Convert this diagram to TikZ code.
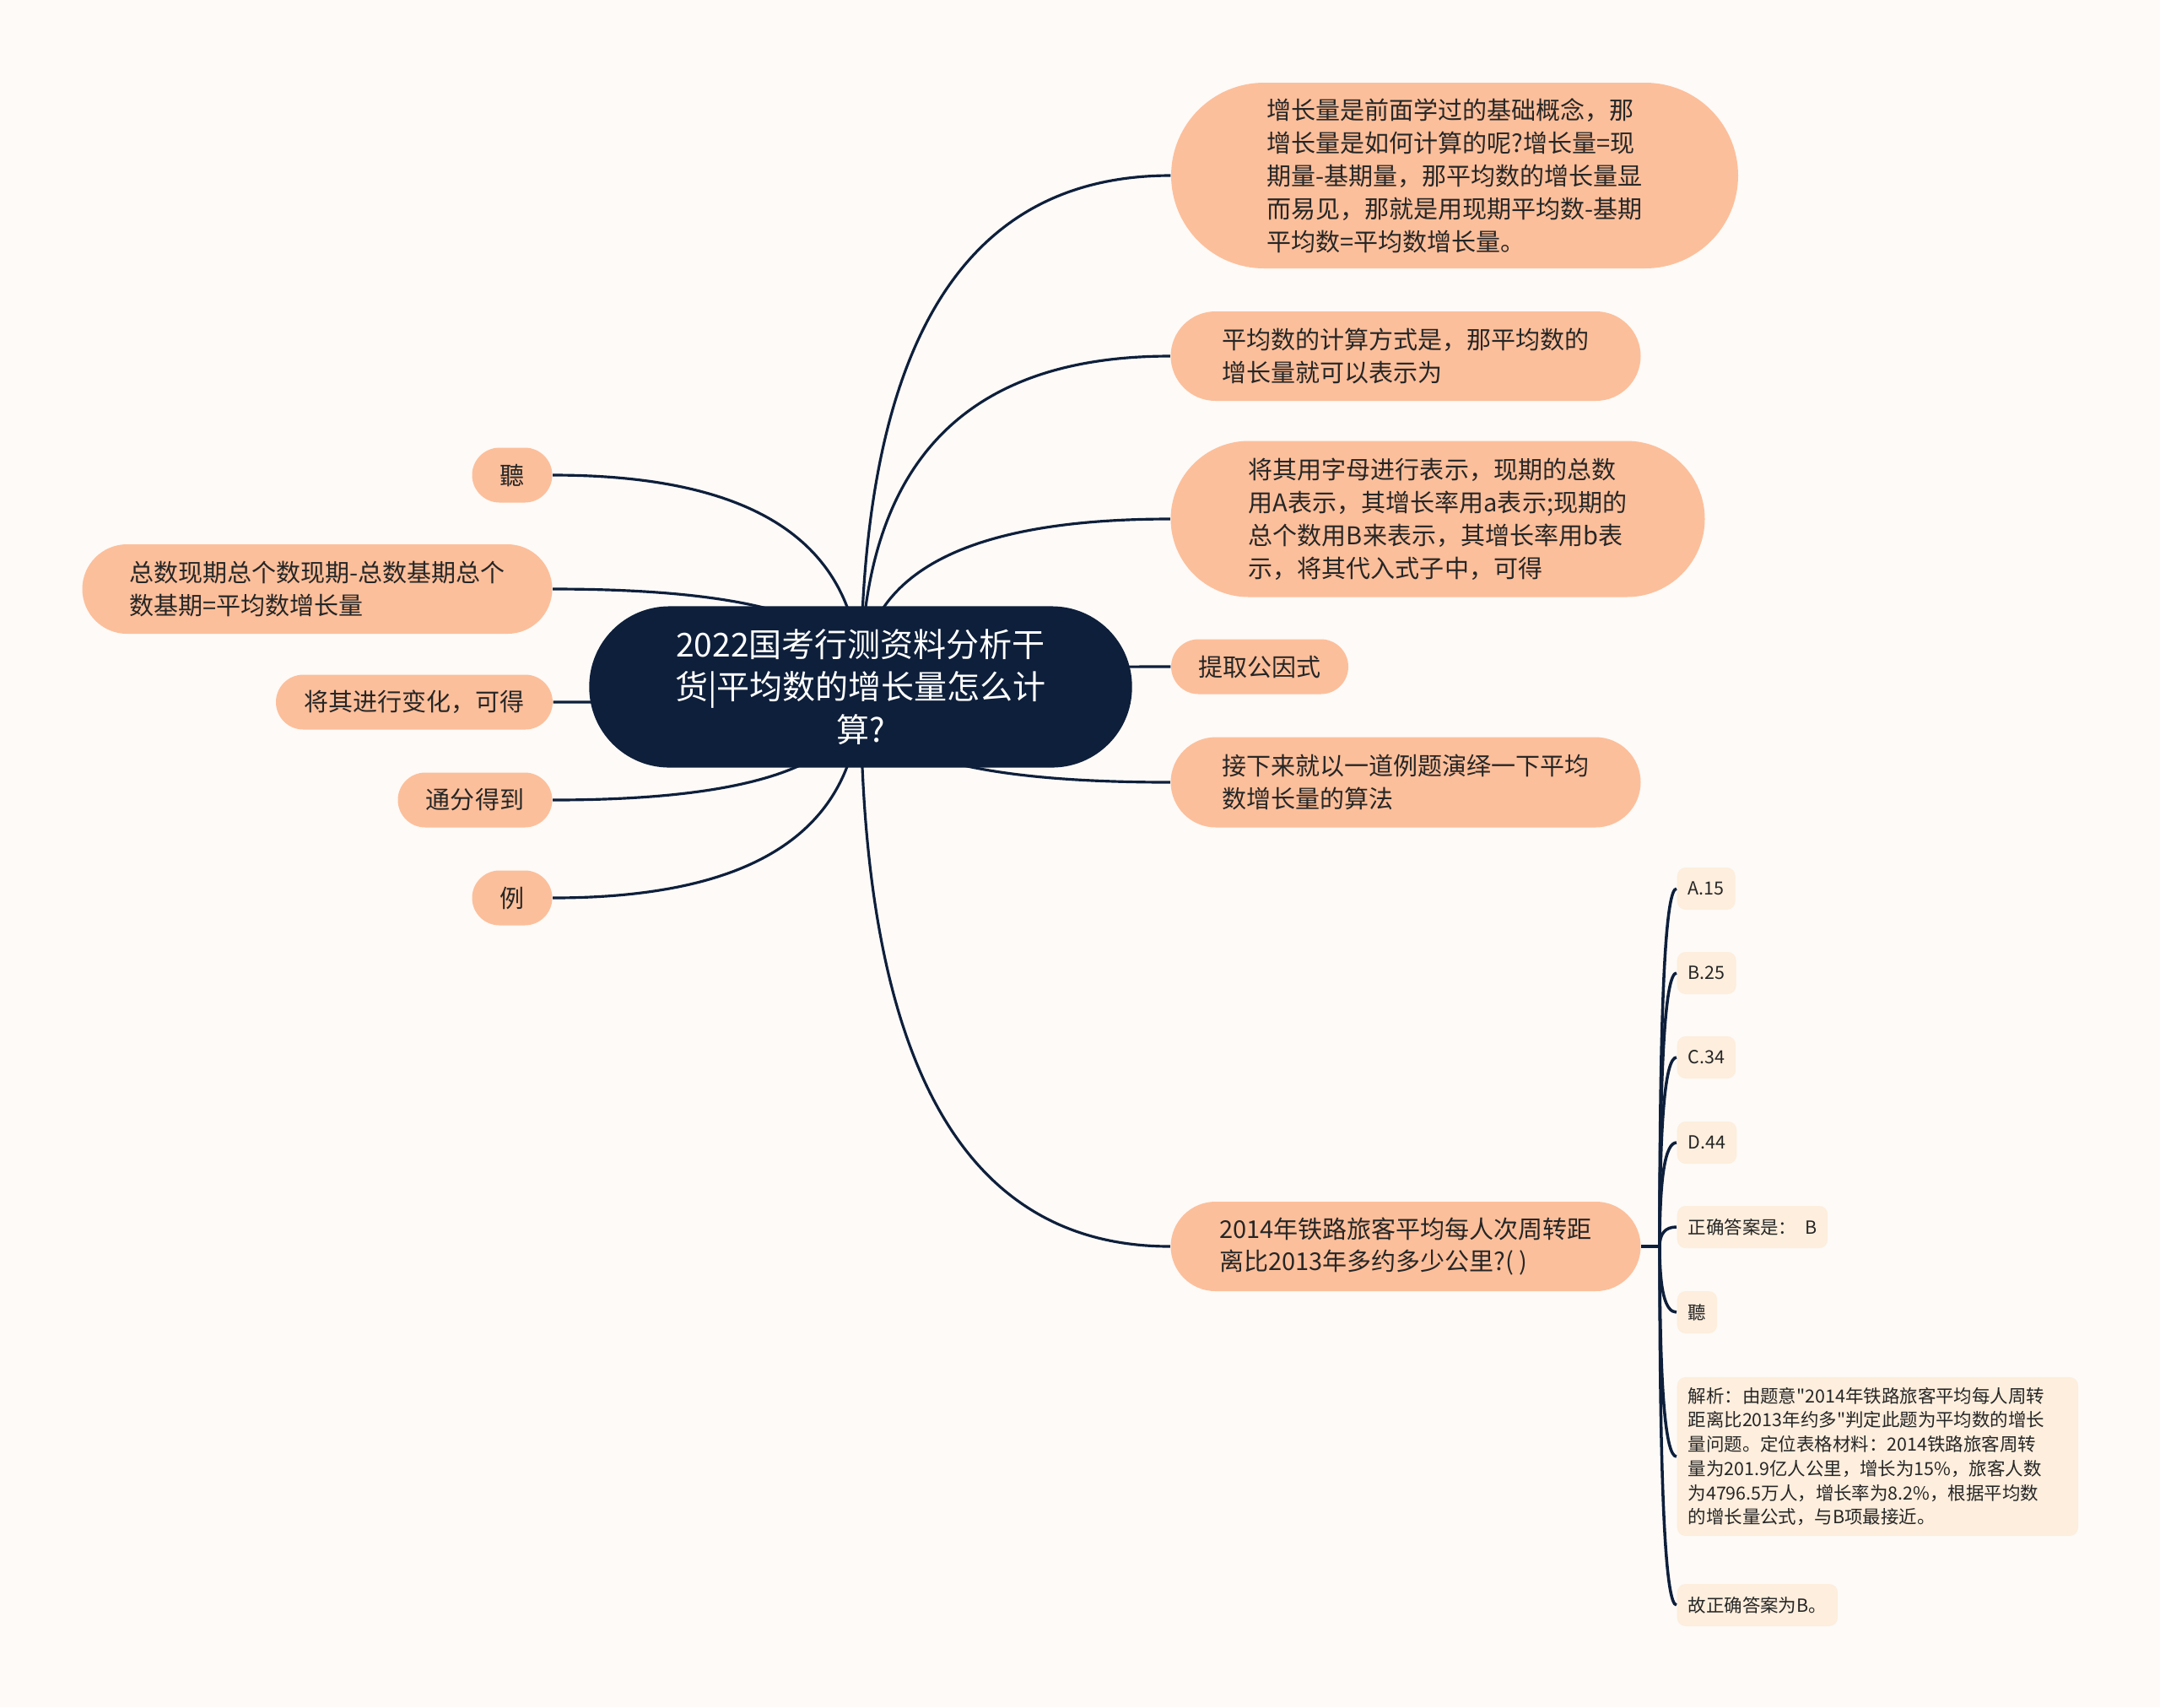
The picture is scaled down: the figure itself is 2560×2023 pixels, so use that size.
\documentclass[tikz,border=0pt]{standalone}
\usepackage{fontspec}
\setmainfont{Noto Sans CJK SC}
\newfontfamily{\rawcjk}{Noto Sans CJK SC}
\usepackage{xcolor}
\usepackage{tikz}
\usetikzlibrary{calc}
\definecolor{paper}{HTML}{FDFAF7}
\definecolor{rootnavy}{HTML}{0E1F3B}
\definecolor{peach}{HTML}{FCBF9B}
\definecolor{cream}{HTML}{FDEEDD}
\definecolor{inkgray}{HTML}{262626}
\newcommand{\rootfont}{\fontsize{11.1pt}{14.4pt}\selectfont}
\newcommand{\topicfont}{\fontsize{8.25pt}{11.07pt}\selectfont}
\newcommand{\leaffont}{\rawcjk\fontsize{6.1pt}{8.17pt}\selectfont}
\pgfdeclarelayer{bg}
\pgfdeclarelayer{links}
\pgfsetlayers{bg,links,main}
\tikzset{
  rootbox/.style = {rectangle, fill=rootnavy, text=white, font=\rootfont,
                    align=center, inner sep=0pt, minimum width=6.43cm,
                    minimum height=1.91cm, rounded corners=0.95cm},
  topic/.style   = {rectangle, fill=peach, text=inkgray, font=\topicfont,
                    align=left, inner sep=0pt},
  pill/.style 2 args = {minimum width=#1*0.01cm, minimum height=#2*0.01cm,
                    rounded corners=#2*0.005cm},
  leaf/.style    = {rectangle, fill=cream, text=inkgray, font=\leaffont,
                    align=left, anchor=west, inner xsep=1.3mm, inner ysep=0pt,
                    minimum height=5mm, rounded corners=1mm},
  link/.style    = {draw=rootnavy, line width=0.9pt},
  branch/.style  = {to path={.. controls
                    ($(\tikztostart)!.67!(\tikztostart |- \tikztotarget)$) and
                    ($(\tikztotarget)!.67!(\tikztostart |- \tikztotarget)$) ..
                    (\tikztotarget)}},
}
\begin{document}
\begin{tikzpicture}[x=0.01cm, y=-0.01cm]
  \begin{pgfonlayer}{bg}
    \fill[paper] (0,0) rectangle (2560,2023);
  \end{pgfonlayer}
  \useasboundingbox (0,0) rectangle (2560,2023);

  \node[rootbox] (root) at (1020,814) {2022国考行测资料分析干\\货|平均数的增长量怎么计\\算?};

  % right side
  \node[topic, pill={672}{220}] (concept) at (1724,208) {增长量是前面学过的基础概念，那\\增长量是如何计算的呢?增长量=现\\期量-基期量，那平均数的增长量显\\而易见，那就是用现期平均数-基期\\平均数=平均数增长量。};
  \node[topic, pill={557}{106}] (method) at (1666,422) {平均数的计算方式是，那平均数的\\增长量就可以表示为};
  \node[topic, pill={633}{185}] (letters) at (1704,615) {将其用字母进行表示，现期的总数\\用A表示，其增长率用a表示;现期的\\总个数用B来表示，其增长率用b表\\示，将其代入式子中，可得};
  \node[topic, pill={210}{65}] (factor) at (1493,790) {提取公因式};
  \node[topic, pill={557}{107}] (demo) at (1666,927) {接下来就以一道例题演绎一下平均\\数增长量的算法};
  \node[topic, pill={557}{106}] (quiz) at (1666,1477) {2014年铁路旅客平均每人次周转距\\离比2013年多约多少公里?( )};

  % left side
  \node[topic, pill={95}{65}] (ting) at (607,563) {聽};
  \node[topic, pill={557}{106}] (formula) at (376,698) {总数现期总个数现期-总数基期总个\\数基期=平均数增长量};
  \node[topic, pill={328}{65}] (transform) at (491,832) {将其进行变化，可得};
  \node[topic, pill={183}{65}] (common) at (563,948) {通分得到};
  \node[topic, pill={95}{65}] (example) at (607,1064) {例};

  % answers of the quiz
  \coordinate (fork) at (1967,1477);
  \node[leaf] (optA) at (1987,1053) {A.15};
  \node[leaf] (optB) at (1987,1153) {B.25};
  \node[leaf] (optC) at (1987,1253) {C.34};
  \node[leaf] (optD) at (1987,1354) {D.44};
  \node[leaf] (answer) at (1987,1454) {正确答案是：~~B};
  \node[leaf] (tingb) at (1987,1555) {聽};
  \node[leaf, inner ysep=1.2mm, text width=4.49cm] (analysis) at (1987,1726) {解析：由题意"2014年铁路旅客平均每人周转\\距离比2013年约多"判定此题为平均数的增长\\量问题。定位表格材料：2014铁路旅客周转\\量为201.9亿人公里，增长为15\%，旅客人数\\为4796.5万人，增长率为8.2\%，根据平均数\\的增长量公式，与B项最接近。};
  \node[leaf] (final) at (1987,1902) {故正确答案为B。};

  \begin{pgfonlayer}{links}
    \draw[link] (root.center) to[branch] (concept.west);
    \draw[link] (root.center) to[branch] (method.west);
    \draw[link] (root.center) to[branch] (letters.west);
    \draw[link] (root.center) to[branch] (factor.west);
    \draw[link] (root.center) to[branch] (demo.west);
    \draw[link] (root.center) to[branch] (quiz.west);
    \draw[link] (root.center) to[branch] (ting.east);
    \draw[link] (root.center) to[branch] (formula.east);
    \draw[link] (root.center) to[branch] (transform.east);
    \draw[link] (root.center) to[branch] (common.east);
    \draw[link] (root.center) to[branch] (example.east);
    \draw[link, line width=1pt] (quiz.east) -- (fork);
    \draw[link, line width=1pt] (fork) to[branch] (optA.west);
    \draw[link, line width=1pt] (fork) to[branch] (optB.west);
    \draw[link, line width=1pt] (fork) to[branch] (optC.west);
    \draw[link, line width=1pt] (fork) to[branch] (optD.west);
    \draw[link, line width=1pt] (fork) to[branch] (answer.west);
    \draw[link, line width=1pt] (fork) to[branch] (tingb.west);
    \draw[link, line width=1pt] (fork) to[branch] (analysis.west);
    \draw[link, line width=1pt] (fork) to[branch] (final.west);
  \end{pgfonlayer}
\end{tikzpicture}
\end{document}
